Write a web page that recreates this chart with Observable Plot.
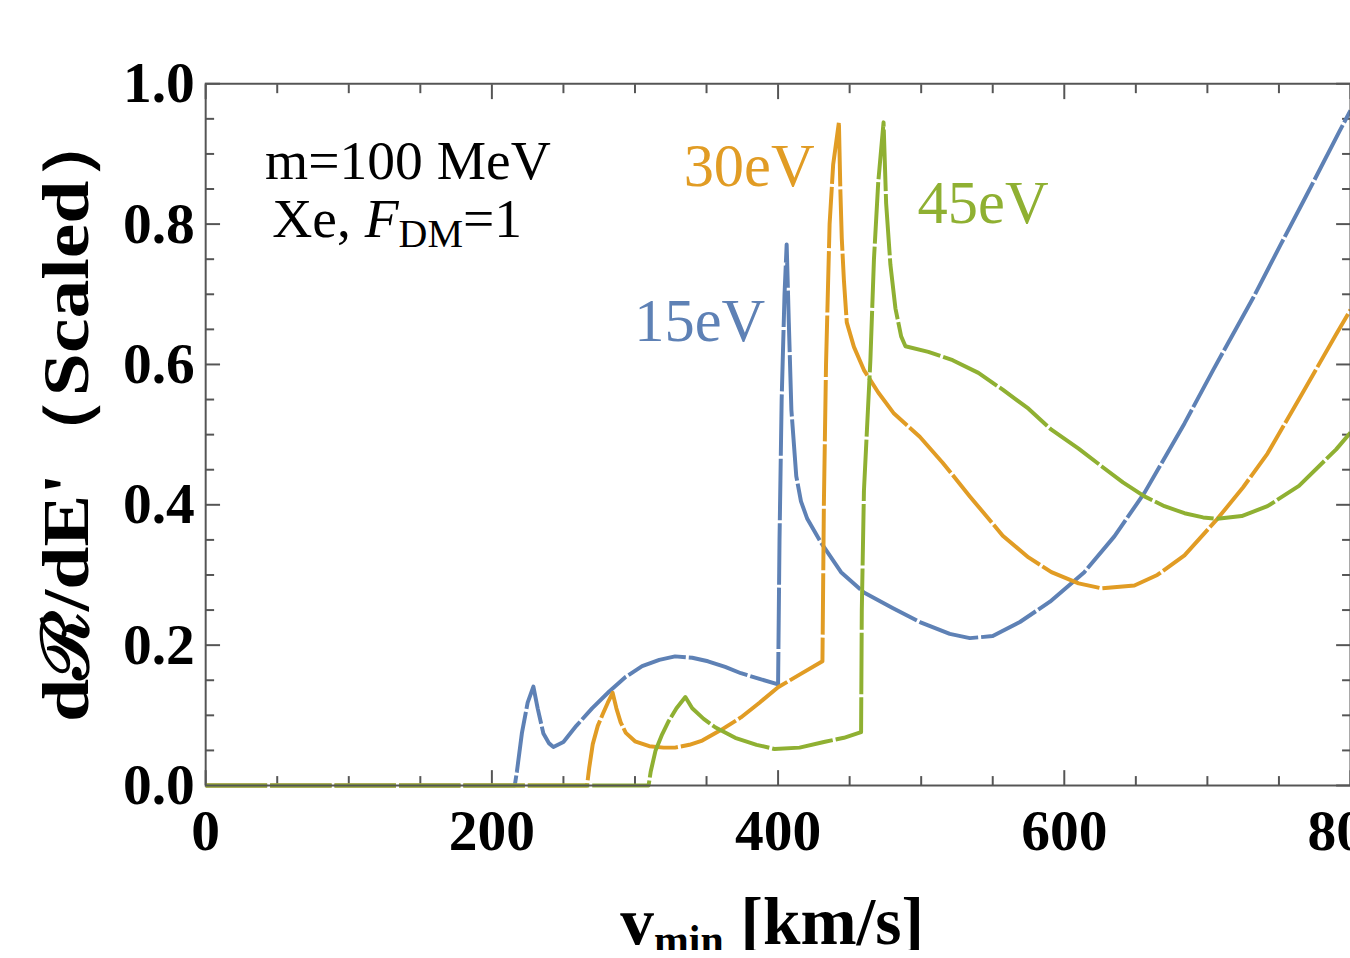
<!DOCTYPE html>
<html><head><meta charset="utf-8">
<script src="https://cdn.jsdelivr.net/npm/d3@7"></script>
<script src="https://cdn.jsdelivr.net/npm/@observablehq/plot@0.6"></script>
<style>
html,body{margin:0;padding:0;background:#fff;overflow:hidden;width:1350px;height:958px}
</style></head><body><div id="chart"></div>
<script>
// ---- tick values ----
const xMajor = [0, 200, 400, 600, 800];
const xMinor = [50, 100, 150, 250, 300, 350, 450, 500, 550, 650, 700, 750];
const yMajor = [0, 0.2, 0.4, 0.6, 0.8, 1.0];
const yMinor = [0.05, 0.1, 0.15, 0.25, 0.3, 0.35, 0.45, 0.5, 0.55, 0.65, 0.7, 0.75, 0.85, 0.9, 0.95];

// ---- series ----
const seriesNames = ["15eV", "30eV", "45eV"];
const seriesColors = ["#5E81B5", "#E19C24", "#8FB032"];

const curve15eV = [[0,0],[216,0],[217.5,0.02],[221,0.075],[225,0.118],[229,0.141],[232,0.11],[236,0.074],[240,0.06],[243,0.055],[250,0.062],[259,0.085],[270,0.11],[282,0.134],[293,0.154],[305,0.17],[317,0.179],[328,0.184],[340,0.182],[351,0.177],[363,0.169],[374,0.16],[387,0.152],[400,0.144],[401,0.35],[402.5,0.55],[404.5,0.7],[406,0.771],[407.5,0.66],[409.3,0.535],[412.7,0.441],[416,0.405],[420.4,0.38],[430,0.346],[444,0.304],[460,0.275],[480,0.253],[500,0.232],[520,0.216],[534,0.21],[550,0.213],[569,0.233],[590,0.262],[614,0.304],[635,0.355],[656,0.417],[684,0.516],[704,0.592],[732,0.695],[751,0.77],[769,0.84],[792,0.931],[800,0.962]];

const curve30eV = [[0,0],[266.5,0],[268,0.025],[270.5,0.059],[274,0.085],[277.5,0.102],[281,0.118],[284.4,0.132],[287,0.11],[290,0.09],[293.6,0.075],[300,0.063],[310,0.056],[320,0.054],[328,0.054],[338,0.058],[347,0.064],[360,0.079],[374,0.097],[387,0.118],[400,0.14],[415,0.158],[431,0.177],[432,0.4],[433.5,0.6],[436,0.8],[438.5,0.885],[442.5,0.945],[443.5,0.85],[444.5,0.78],[446,0.72],[448,0.66],[453,0.625],[460,0.592],[470,0.56],[481,0.53],[499,0.497],[515,0.46],[534,0.412],[557,0.356],[575,0.325],[591,0.304],[610,0.288],[626,0.281],[649,0.285],[665,0.3],[684,0.328],[707,0.38],[725,0.425],[742,0.473],[765,0.554],[790,0.643],[800,0.678]];

const curve45eV = [[0,0],[309.5,0],[311,0.02],[314.4,0.05],[319,0.073],[323.6,0.092],[329,0.11],[335.2,0.126],[340,0.11],[348,0.095],[356,0.083],[370,0.068],[385,0.058],[397.5,0.052],[415,0.054],[432,0.062],[446,0.068],[458,0.076],[458.5,0.25],[460,0.42],[464.5,0.606],[467,0.75],[470,0.86],[473.7,0.945],[475.5,0.83],[478.5,0.742],[482,0.68],[486,0.64],[489,0.626],[505,0.618],[522,0.606],[540,0.588],[557,0.564],[575,0.537],[591,0.507],[610,0.48],[626,0.455],[641,0.432],[656,0.412],[670,0.398],[684,0.388],[697,0.382],[707,0.38],[724,0.384],[742,0.398],[764,0.427],[790,0.479],[800,0.503]];

// ---- labels ----
const curveLabels = [
  {text: "15eV", v: 299.5, r: 0.634, series: "15eV"},
  {text: "30eV", v: 334.0, r: 0.855, series: "30eV"},
  {text: "45eV", v: 497.5, r: 0.802, series: "45eV"}
];
const notes = [
  {text: "m=100 MeV", v: 41.5, r: 0.864},
  {text: "Xe, F_DM=1", v: 46.5, r: 0.782}
];
const xTitle = "v_min [km/s]";
const yTitle = "dℛ/dE'（Scaled）";

// ---- build table ----
const curves = [curve15eV, curve30eV, curve45eV];
const rows = curves.flatMap((c, i) => c.map(([v, r]) => ({v, r, series: seriesNames[i]})));

const serif = "'Liberation Serif', 'Times New Roman', 'DejaVu Serif', serif";
const gray = "#555";

const plot = Plot.plot({
  width: 1362,
  height: 958,
  marginLeft: 207,
  marginRight: 0,
  marginTop: 84,
  marginBottom: 166,
  x: {domain: [0, 800]},
  y: {domain: [0, 1]},
  color: {domain: seriesNames, range: seriesColors},
  style: {fontFamily: serif, background: "#fff", color: "#000"},
  marks: [
    // inward ticks (bottom/top/left/right)
    Plot.axisX({anchor: "bottom", ticks: xMajor, tickSize: -15, fill: "none", stroke: gray, strokeWidth: 2}),
    Plot.axisX({anchor: "bottom", ticks: xMinor, tickSize: -9, fill: "none", stroke: gray, strokeWidth: 2}),
    Plot.axisX({anchor: "top", ticks: xMajor, tickSize: -15, fill: "none", stroke: gray, strokeWidth: 2}),
    Plot.axisX({anchor: "top", ticks: xMinor, tickSize: -9, fill: "none", stroke: gray, strokeWidth: 2}),
    Plot.axisY({anchor: "left", ticks: yMajor, tickSize: -15, fill: "none", stroke: gray, strokeWidth: 2}),
    Plot.axisY({anchor: "left", ticks: yMinor, tickSize: -9, fill: "none", stroke: gray, strokeWidth: 2}),
    Plot.axisY({anchor: "right", ticks: yMajor, tickSize: -15, fill: "none", stroke: gray, strokeWidth: 2}),
    Plot.axisY({anchor: "right", ticks: yMinor, tickSize: -9, fill: "none", stroke: gray, strokeWidth: 2}),
    // tick labels
    Plot.axisX({anchor: "bottom", ticks: xMajor, tickSize: 0, tickPadding: 24, label: null,
      tickFormat: d => String(d), fontSize: 58, fontWeight: "bold", fontFamily: serif}),
    Plot.axisY({anchor: "left", ticks: yMajor, tickSize: 0, tickPadding: 11, label: null,
      tickFormat: d => d.toFixed(1), fontSize: 58, fontWeight: "bold", fontFamily: serif}),
    // curves
    Plot.line(rows, {x: "v", y: "r", z: "series", stroke: "series", strokeWidth: 4,
      strokeDasharray: "62,3", strokeLinecap: "butt", curve: "linear"}),
    Plot.frame({stroke: gray, strokeWidth: 2}),
    // curve labels
    Plot.text(curveLabels, {x: "v", y: "r", text: "text", fill: "series", textAnchor: "start",
      lineAnchor: "bottom", fontSize: 61, fontFamily: serif}),
    // annotations
    Plot.text(notes, {x: "v", y: "r", text: "text", textAnchor: "start", lineAnchor: "bottom",
      fontSize: 56, fontFamily: serif, fill: "#000"}),
    // axis titles
    Plot.text([xTitle], {frameAnchor: "bottom", text: d => d, textAnchor: "middle", dx: -6, dy: 160, lineAnchor: "bottom",
      fontSize: 68, fontWeight: "bold", fontFamily: serif, fill: "#000"}),
    Plot.text([yTitle], {frameAnchor: "left", text: d => d, textAnchor: "middle", rotate: -90, dx: -119, dy: -22,
      lineAnchor: "bottom", fontSize: 66, fontWeight: "bold", fontFamily: serif, fill: "#000"})
  ]
});

// rich text (subscripts / italics) as real tspans
const rich = {
  "Xe, F_DM=1": [["Xe, ", {}], ["F", {"font-style": "italic"}], ["DM", {"font-size": "0.72em", "dy": "10"}], ["=1", {"dy": "-10"}]],
  "v_min [km/s]": [["v", {}], ["min", {"font-size": "0.62em", "dy": "10"}], [" [km/s]", {"dy": "-10"}]]
};
d3.select(plot).selectAll("text").each(function() {
  const t = this.textContent;
  if (rich[t]) {
    const el = d3.select(this);
    el.text(null);
    for (const [s, attrs] of rich[t]) {
      const ts = el.append("tspan").text(s);
      for (const k in attrs) ts.attr(k, attrs[k]);
    }
  } else if (t.includes("Scaled")) {
    // stretch the rotated title along its length, like the reference
    d3.select(this).attr("textLength", 624).attr("lengthAdjust", "spacingAndGlyphs");
  }
});

document.getElementById("chart").appendChild(plot);
</script></body></html>
